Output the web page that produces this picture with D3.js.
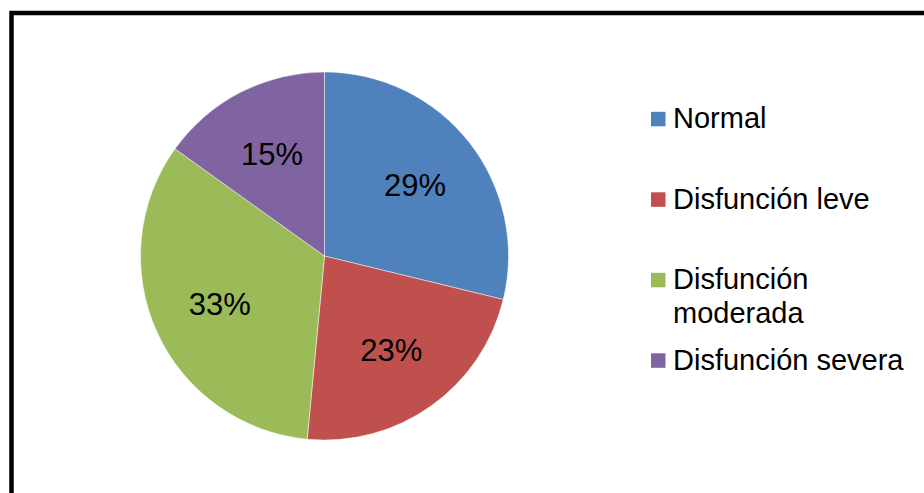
<!DOCTYPE html>
<html>
<head>
<meta charset="utf-8">
<script src="https://cdn.jsdelivr.net/npm/d3@7"></script>
<style>
  html, body { margin: 0; padding: 0; background: #fff; }
  svg { display: block; font-family: "Liberation Sans", Arial, sans-serif; }
</style>
</head>
<body>
<svg id="chart" width="924" height="493"></svg>
<script>
// data (slice shares in percent, labels shown rounded)
var categories = ["Normal", "Disfunción leve", "Disfunción moderada", "Disfunción severa"];
var legendLines = [["Normal"], ["Disfunción leve"], ["Disfunción", "moderada"], ["Disfunción severa"]];
var values = [28.8, 22.7, 33.4, 15.1];
var colors = ["#4F81BD", "#C0504D", "#9BBB59", "#8064A2"];

var width = 924, height = 493;
var svg = d3.select("#chart");

// outer frame (runs off the right and bottom edges)
svg.append("rect")
    .attr("x", 11.5)
    .attr("y", 13)
    .attr("width", 1000)
    .attr("height", 1000)
    .attr("fill", "#fff")
    .attr("stroke", "#000")
    .attr("stroke-width", 4.5);

var cx = 324.5, cy = 256, r = 184;

var pie = d3.pie().sort(null).value(function(d) { return d; });
var arcs = pie(values);

var arc = d3.arc().innerRadius(0).outerRadius(r);
var labelArc = d3.arc().innerRadius(r * 0.625).outerRadius(r * 0.625);

var g = svg.append("g").attr("transform", "translate(" + cx + "," + cy + ")");

g.selectAll("path")
    .data(arcs)
    .enter().append("path")
    .attr("d", arc)
    .attr("fill", function(d, i) { return colors[i]; })
    .attr("stroke", "#fff")
    .attr("stroke-opacity", 0.6)
    .attr("stroke-width", 0.8);

var total = d3.sum(values);
g.selectAll("text")
    .data(arcs)
    .enter().append("text")
    .attr("transform", function(d) { return "translate(" + labelArc.centroid(d) + ")"; })
    .attr("text-anchor", "middle")
    .attr("dy", "0.36em")
    .style("font-size", "31px")
    .attr("fill", "#000")
    .text(function(d) { return Math.round(d.value / total * 100) + "%"; });

// legend
var legX = 651, legY = 128.3, legStep = 80.5, lineH = 34;
var leg = svg.append("g");
legendLines.forEach(function(lines, i) {
    var y = legY + i * legStep;
    leg.append("rect")
        .attr("x", legX)
        .attr("y", y - 16.5)
        .attr("width", 14.5)
        .attr("height", 14.5)
        .attr("fill", colors[i]);
    var t = leg.append("text")
        .attr("x", legX + 22)
        .attr("y", y)
        .style("font-size", "29px")
        .attr("fill", "#000");
    lines.forEach(function(s, k) {
        t.append("tspan")
            .attr("x", legX + 22)
            .attr("y", y + k * lineH)
            .text(s);
    });
});
</script>
</body>
</html>
